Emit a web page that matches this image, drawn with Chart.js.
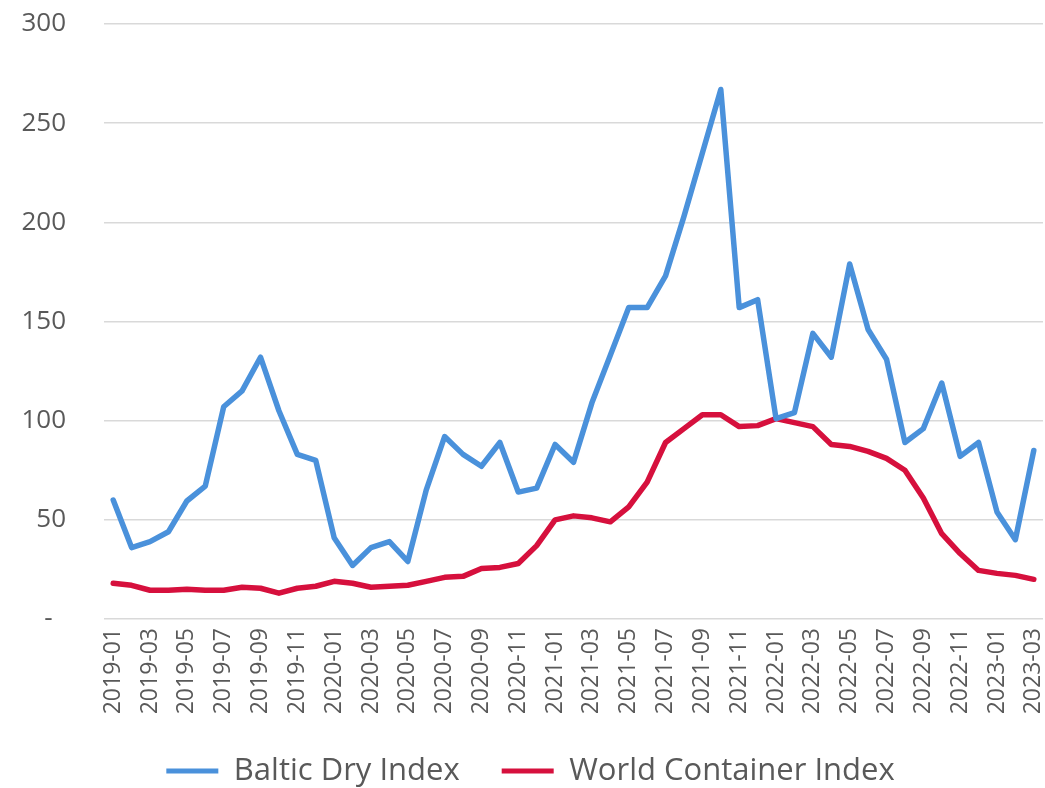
<!DOCTYPE html>
<html>
<head>
<meta charset="utf-8">
<title>Baltic Dry Index vs World Container Index</title>
<script src="https://cdn.jsdelivr.net/npm/chart.js@4/dist/chart.umd.min.js"></script>
<style>
    html, body { margin: 0; padding: 0; background: #ffffff; }
    #wrap { width: 1045px; height: 788px; }
</style>
</head>
<body>
<div id="wrap"><canvas id="indexChart" width="1045" height="788"></canvas></div>
<script>
// Monthly categories
const months = [
    '2019-01', '2019-02', '2019-03', '2019-04', '2019-05', '2019-06', '2019-07', '2019-08', '2019-09', '2019-10', '2019-11', '2019-12',
    '2020-01', '2020-02', '2020-03', '2020-04', '2020-05', '2020-06', '2020-07', '2020-08', '2020-09', '2020-10', '2020-11', '2020-12',
    '2021-01', '2021-02', '2021-03', '2021-04', '2021-05', '2021-06', '2021-07', '2021-08', '2021-09', '2021-10', '2021-11', '2021-12',
    '2022-01', '2022-02', '2022-03', '2022-04', '2022-05', '2022-06', '2022-07', '2022-08', '2022-09', '2022-10', '2022-11', '2022-12',
    '2023-01', '2023-02', '2023-03'
];

// Series values
const balticDry = [
    60, 36, 39, 44, 59.5, 67, 107, 115, 132, 105, 83, 80,
    41, 27, 36, 39, 29, 65, 92, 83, 77, 89, 64, 66,
    88, 79, 109, 133, 157, 157, 173, 203, 235, 267, 157, 161,
    101, 104, 144, 132, 179, 146, 131, 89, 96, 119, 82, 89,
    54, 40, 85
];
const worldContainer = [
    18, 17, 14.5, 14.5, 15, 14.5, 14.5, 16, 15.5, 13, 15.5, 16.5,
    19, 18, 16, 16.5, 17, 19, 21, 21.5, 25.5, 26, 28, 37,
    50, 52, 51, 49, 56.5, 69, 89, 96, 103, 103, 97, 97.5,
    101, 99, 97, 88, 87, 84.5, 81, 75, 61, 43, 33, 24.5,
    23, 22, 20
];

const seriesNames = ['Baltic Dry Index', 'World Container Index'];
const seriesColors = ['#4A91DB', '#D6103D'];
const yTicks = [0, 50, 100, 150, 200, 250, 300];

const textGrey = '#595959';
const gridGrey = '#D9D9D9';

const ctx = document.getElementById('indexChart').getContext('2d');
new Chart(ctx, {
    type: 'line',
    data: {
        labels: months,
        datasets: [
            {
                label: seriesNames[0],
                data: balticDry,
                borderColor: seriesColors[0],
                backgroundColor: seriesColors[0],
                borderWidth: 5.5,
                borderJoinStyle: 'round',
                borderCapStyle: 'round',
                pointRadius: 0,
                tension: 0
            },
            {
                label: seriesNames[1],
                data: worldContainer,
                borderColor: seriesColors[1],
                backgroundColor: seriesColors[1],
                borderWidth: 5.5,
                borderJoinStyle: 'round',
                borderCapStyle: 'round',
                pointRadius: 0,
                tension: 0
            }
        ]
    },
    options: {
        responsive: false,
        animation: false,
        layout: {
            // small negative bottom so the legend text sits lower, like the original
            padding: { top: 24, right: 2, left: 18, bottom: -8.5 }
        },
        plugins: {
            tooltip: { enabled: false },
            legend: {
                position: 'bottom',
                labels: {
                    color: textGrey,
                    font: { family: "'Open Sans', sans-serif", size: 31 },
                    boxWidth: 52,
                    boxHeight: 5,
                    padding: 42,
                    generateLabels: function(chart) {
                        return chart.data.datasets.map((ds, i) => ({
                            text: ds.label,
                            fillStyle: ds.borderColor,
                            strokeStyle: ds.borderColor,
                            lineWidth: 0,
                            fontColor: textGrey,
                            hidden: false,
                            datasetIndex: i
                        }));
                    }
                }
            }
        },
        scales: {
            x: {
                offset: true,
                grid: { display: false, drawTicks: false },
                border: { display: false },
                ticks: {
                    color: textGrey,
                    font: { family: "'Open Sans', sans-serif", size: 23 },
                    autoSkip: false,
                    minRotation: 90,
                    maxRotation: 90,
                    padding: 9,
                    callback: function(value, index) {
                        return index % 2 === 0 ? this.getLabelForValue(value) : '';
                    }
                },
                afterFit: function(axis) {
                    axis.paddingLeft = 0;
                    axis.paddingRight = 0;
                    axis.height = 94.5;
                }
            },
            y: {
                min: yTicks[0],
                max: yTicks[yTicks.length - 1],
                grid: { color: gridGrey, lineWidth: 1.5, drawTicks: false },
                border: { display: false },
                afterBuildTicks: function(axis) {
                    axis.ticks = yTicks.map(v => ({ value: v }));
                },
                ticks: {
                    color: textGrey,
                    font: { family: "'Open Sans', sans-serif", size: 26 },
                    padding: 38,
                    callback: function(value) {
                        return value === 0 ? '-  ' : value;
                    }
                },
                afterFit: function(axis) {
                    axis.width = 86;
                    axis.paddingTop = 0;
                    axis.paddingBottom = 0;
                }
            }
        }
    }
});
</script>
</body>
</html>
